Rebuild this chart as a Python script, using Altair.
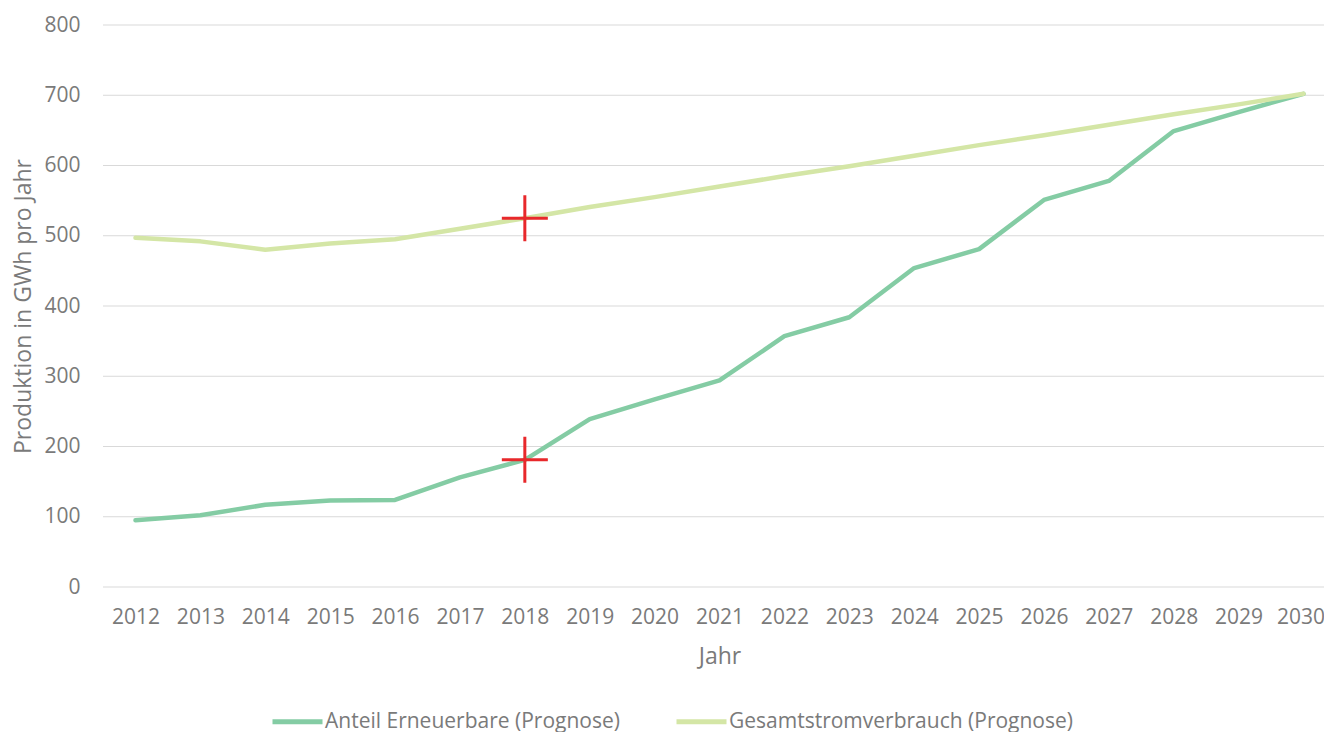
import altair as alt
import pandas as pd

# ---- data ----
years = list(range(2012, 2031))
renewables = [95, 102, 117, 123, 124, 156, 181, 239, 267, 294, 357, 384,
              454, 481, 551, 578, 649, 676, 702]
consumption = [497, 492, 480, 489, 495, 510, 525, 541, 555, 570, 585, 599,
               614, 629, 643, 658, 673, 687, 702]
series_names = ["Anteil Erneuerbare (Prognose)", "Gesamtstromverbrauch (Prognose)"]
series_colors = ["#84CCA4", "#D4E6A6"]
marker_years = [2018, 2018]
marker_values = [525, 181]
y_ticks = [0, 100, 200, 300, 400, 500, 600, 700, 800]

rows = []
for name, values in zip(series_names, [renewables, consumption]):
    for yr, v in zip(years, values):
        rows.append({"Jahr": str(yr), "Wert": v, "Serie": name})
df = pd.DataFrame(rows)
markers = pd.DataFrame({"Jahr": [str(y) for y in marker_years], "Wert": marker_values})
grid_df = pd.DataFrame({"Wert": y_ticks})

FONT = "Open Sans"
TXT = "#7a7a7a"
PLOT_W = 1221
PLOT_H = 562
year_dom = [str(y) for y in years]
x_scale = alt.Scale(type="point", domain=year_dom, range=[32.5, 1200.5], padding=0)
y_scale = alt.Scale(domain=[0, 800], nice=False, zero=True)

x_enc = alt.X(
    "Jahr:O",
    sort=year_dom,
    scale=x_scale,
    axis=alt.Axis(
        title="Jahr", labelAngle=0, ticks=False, domain=False, grid=False,
        labelPadding=19, labelFontSize=21, labelColor=TXT, labelFont=FONT,
        labelOffset={"condition": {"test": "datum.value == '2030'", "value": -3}, "value": 0},
        titleFontSize=23, titleColor=TXT, titleFont=FONT, titleFontWeight="normal",
        titleY=69, titleBaseline="middle",
    ),
)
y_enc = alt.Y(
    "Wert:Q",
    scale=y_scale,
    axis=alt.Axis(
        title="Produktion in GWh pro Jahr", values=y_ticks, ticks=False, domain=False,
        grid=False,
        labelPadding=23, labelFontSize=21, labelColor=TXT, labelFont=FONT,
        titleFontSize=23, titleColor=TXT, titleFont=FONT, titleFontWeight="normal",
        titleX=-80, titleY=281, titleAngle=270, titleAlign="center", titleBaseline="middle",
    ),
)

grid = alt.Chart(grid_df).mark_rule(color="#d9d9d9", strokeWidth=1.2).encode(
    y=y_enc, x=alt.value(0), x2=alt.value(PLOT_W)
)

lines = alt.Chart(df).mark_line(strokeWidth=4.5, strokeCap="round", strokeJoin="round").encode(
    x=x_enc,
    y=y_enc,
    color=alt.Color(
        "Serie:N",
        scale=alt.Scale(domain=series_names, range=series_colors),
        legend=alt.Legend(
            title=None, orient="none", direction="horizontal",
            legendX=167, legendY=669, padding=0,
            symbolType="stroke", symbolSize=2500, symbolStrokeWidth=5,
            labelFontSize=21, labelColor=TXT, labelFont=FONT, labelOffset=0,
            labelLimit=0, columnPadding=46,
        ),
    ),
    order=alt.Order("Jahr:O"),
)

crosses = alt.Chart(markers).mark_point(
    shape="M-1,0L1,0M0,-1L0,1", size=2116, filled=False,
    stroke="#E8282B", strokeWidth=3, opacity=1,
).encode(x=x_enc, y=y_enc)

chart = (
    alt.layer(grid, lines, crosses)
    .properties(
        width=PLOT_W, height=PLOT_H,
        autosize=alt.AutoSizeParams(type="none"),
        padding={"left": 95, "top": 17, "right": 0, "bottom": 152},
    )
    .configure(font=FONT)
    .configure_view(stroke=None, strokeWidth=0)
)

chart.save("out.html", embed_options={"renderer": "svg", "actions": False})
